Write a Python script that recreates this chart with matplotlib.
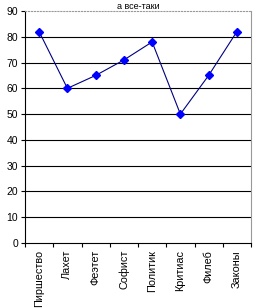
import matplotlib.pyplot as plt

plt.rcParams['font.family'] = ['Liberation Sans', 'DejaVu Sans']

labels = ['Пиршество', 'Лахет', 'Феэтет', 'Софист', 'Политик', 'Критиас', 'Филеб', 'Законы']
values = [82, 60, 65, 71, 78, 50, 65, 82]

fig = plt.figure(figsize=(2.57, 3.08), dpi=100)
ax = fig.add_axes([25/257, 65/308, 226/257, 232/308])

x = [i + 0.5 for i in range(len(labels))]
ax.plot(x, values, color='#000080', lw=0.8, marker='D', ms=4,
        markerfacecolor='#0000ff', markeredgecolor='#0000ff', zorder=3)

ax.set_xlim(0, len(labels))
ax.set_ylim(0, 90)
ax.set_yticks(range(0, 91, 10))
ax.set_xticks(range(len(labels) + 1))
ax.set_xticklabels([])
ax.set_xticks(x, minor=True)
ax.set_xticklabels(labels, minor=True, rotation=90, fontsize=7.8)
ax.tick_params(axis='x', which='minor', length=0, pad=5)
ax.tick_params(axis='x', which='major', direction='out', length=3, width=0.8)
ax.tick_params(axis='y', direction='out', length=3, width=0.8, labelsize=7.5, pad=2)

for v in range(10, 90, 10):
    ax.axhline(v, color='black', lw=0.8, zorder=1)

ax.spines['top'].set_color('#999999')
ax.spines['top'].set_linestyle(':')
ax.spines['right'].set_color('#999999')
ax.spines['left'].set_linewidth(0.8)
ax.spines['bottom'].set_linewidth(0.8)

ax.set_title('а все-таки', fontsize=6.5, pad=1)

fig.savefig('out.png', dpi=100)
